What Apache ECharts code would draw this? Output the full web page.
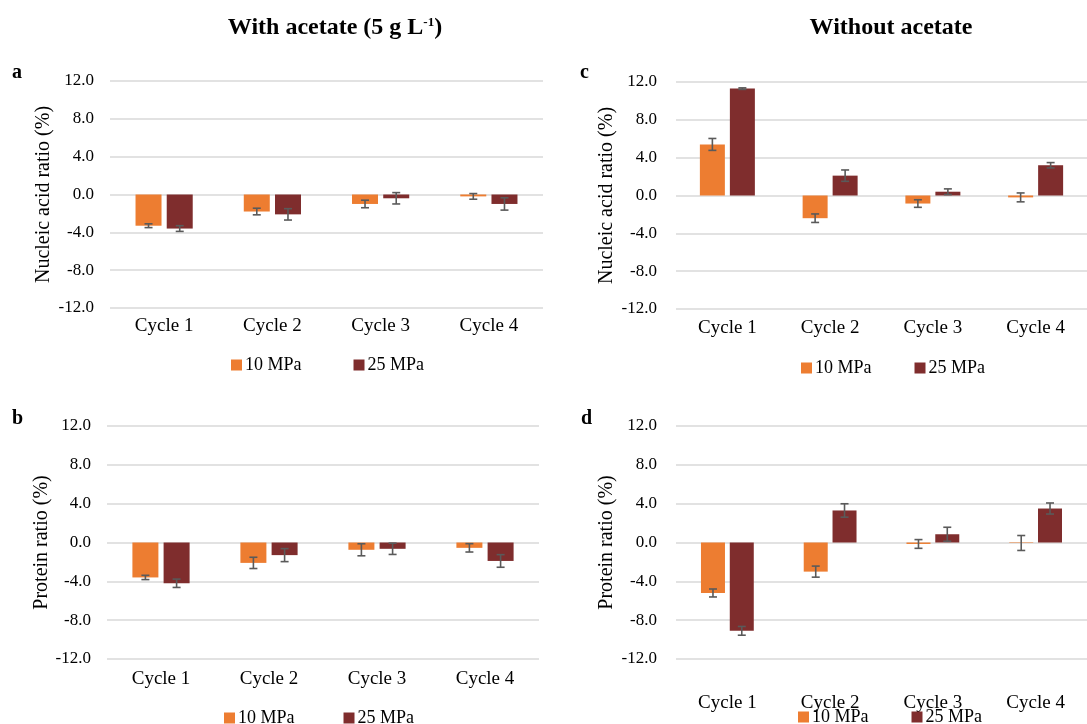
<!DOCTYPE html>
<html>
<head>
<meta charset="utf-8">
<script src="https://cdn.jsdelivr.net/npm/echarts@6/dist/echarts.min.js"></script>
<style>
  html, body { margin: 0; padding: 0; background: #fff; }
  #chart { width: 1087px; height: 724px; }
</style>
</head>
<body>
<div id="chart"></div>
<script>
// Categories and values (ratio in %, with standard deviation)
const cycles = ['Cycle 1', 'Cycle 2', 'Cycle 3', 'Cycle 4'];
const yTicks = [-12, -8, -4, 0, 4, 8, 12];

// a: nucleic acid ratio, with acetate
const nucleicAcetate10 = [-3.3, -1.8, -1.0, -0.2];
const nucleicAcetate10Err = [0.2, 0.35, 0.4, 0.3];
const nucleicAcetate25 = [-3.6, -2.1, -0.4, -1.0];
const nucleicAcetate25Err = [0.3, 0.6, 0.6, 0.65];

// b: protein ratio, with acetate
const proteinAcetate10 = [-3.6, -2.1, -0.75, -0.55];
const proteinAcetate10Err = [0.22, 0.58, 0.62, 0.43];
const proteinAcetate25 = [-4.2, -1.3, -0.65, -1.9];
const proteinAcetate25Err = [0.43, 0.67, 0.58, 0.65];

// c: nucleic acid ratio, without acetate
const nucleicNoAcetate10 = [5.4, -2.4, -0.85, -0.2];
const nucleicNoAcetate10Err = [0.63, 0.45, 0.4, 0.47];
const nucleicNoAcetate25 = [11.3, 2.1, 0.4, 3.2];
const nucleicNoAcetate25Err = [0.08, 0.6, 0.3, 0.28];

// d: protein ratio, without acetate
const proteinNoAcetate10 = [-5.2, -3.0, -0.15, -0.05];
const proteinNoAcetate10Err = [0.41, 0.57, 0.45, 0.77];
const proteinNoAcetate25 = [-9.1, 3.3, 0.85, 3.5];
const proteinNoAcetate25Err = [0.45, 0.69, 0.72, 0.57];

const FONT = '"Liberation Serif", "DejaVu Serif", serif';
const C10 = '#ED7D31';
const C25 = '#7F2D2D';
const ERR = '#5A5A5A';
const BAR_GAP = 0.2;

const panels = [
  { letter: 'a', grid: { left: 110, top: 81, width: 433, height: 227 }, yName: 'Nucleic acid ratio (%)',
    v10: nucleicAcetate10, e10: nucleicAcetate10Err, v25: nucleicAcetate25, e25: nucleicAcetate25Err,
    barWidth: 26, labelMargin: 9, tickMargin: 16, nameGap: 56,
    legendTop: 351, legendLeft: 226, legendGap: 52, letterPos: [12, 63] },
  { letter: 'b', grid: { left: 107, top: 426, width: 432, height: 233 }, yName: 'Protein ratio (%)',
    v10: proteinAcetate10, e10: proteinAcetate10Err, v25: proteinAcetate25, e25: proteinAcetate25Err,
    barWidth: 26, labelMargin: 11, tickMargin: 16, nameGap: 52,
    legendTop: 704, legendLeft: 219, legendGap: 49, letterPos: [12, 409] },
  { letter: 'c', grid: { left: 676, top: 82, width: 424, height: 227 }, yName: 'Nucleic acid ratio (%)',
    v10: nucleicNoAcetate10, e10: nucleicNoAcetate10Err, v25: nucleicNoAcetate25, e25: nucleicNoAcetate25Err,
    barWidth: 25, labelMargin: 10, tickMargin: 19, nameGap: 59,
    legendTop: 354, legendLeft: 796, legendGap: 43, letterPos: [580, 63] },
  { letter: 'd', grid: { left: 676, top: 426, width: 424, height: 233 }, yName: 'Protein ratio (%)',
    v10: proteinNoAcetate10, e10: proteinNoAcetate10Err, v25: proteinNoAcetate25, e25: proteinNoAcetate25Err,
    barWidth: 24, labelMargin: 35, tickMargin: 19, nameGap: 59,
    legendTop: 703, legendLeft: 793, legendGap: 43, letterPos: [581, 409] }
];

// Error bar drawn at a bar's centre, shifted by the bar's position in its group
function errorBarRenderer(barWidth, side) {
  return function (params, api) {
    const i = api.value(0);
    const v = api.value(1);
    const e = api.value(2);
    const offset = side * (barWidth * (1 + BAR_GAP)) / 2;
    const hi = api.coord([i, v + e]);
    const lo = api.coord([i, v - e]);
    const x = hi[0] + offset;
    const cap = 4;
    const style = { stroke: ERR, lineWidth: 1.6, fill: null };
    return {
      type: 'group',
      children: [
        { type: 'line', shape: { x1: x, y1: hi[1], x2: x, y2: lo[1] }, style: style },
        { type: 'line', shape: { x1: x - cap, y1: hi[1], x2: x + cap, y2: hi[1] }, style: style },
        { type: 'line', shape: { x1: x - cap, y1: lo[1], x2: x + cap, y2: lo[1] }, style: style }
      ]
    };
  };
}

const grids = [], xAxes = [], yAxes = [], series = [], legends = [], graphics = [];

panels.forEach(function (p, k) {
  grids.push(p.grid);
  xAxes.push({
    type: 'category', gridIndex: k, data: cycles,
    axisLine: { show: false }, axisTick: { show: false },
    axisLabel: { fontFamily: FONT, fontSize: 19, color: '#000', margin: p.labelMargin }
  });
  yAxes.push({
    type: 'value', gridIndex: k, min: yTicks[0], max: yTicks[yTicks.length - 1], interval: 4,
    name: p.yName, nameLocation: 'middle', nameGap: p.nameGap, nameRotate: 90,
    nameTextStyle: { fontFamily: FONT, fontSize: 20, color: '#000' },
    axisLine: { show: false }, axisTick: { show: false },
    axisLabel: { fontFamily: FONT, fontSize: 17, color: '#000', margin: p.tickMargin,
      formatter: function (v) { return v.toFixed(1); } },
    splitLine: { lineStyle: { color: '#D9D9D9', width: 1.5 } }
  });
  series.push({
    name: '10 MPa', type: 'bar', xAxisIndex: k, yAxisIndex: k, data: p.v10,
    barWidth: p.barWidth, barGap: (BAR_GAP * 100) + '%',
    itemStyle: { color: C10 }
  });
  series.push({
    name: '25 MPa', type: 'bar', xAxisIndex: k, yAxisIndex: k, data: p.v25,
    barWidth: p.barWidth, barGap: (BAR_GAP * 100) + '%',
    itemStyle: { color: C25 }
  });
  series.push({
    type: 'custom', xAxisIndex: k, yAxisIndex: k, z: 10, silent: true,
    renderItem: errorBarRenderer(p.barWidth, -1),
    data: p.v10.map(function (v, i) { return [i, v, p.e10[i]]; })
  });
  series.push({
    type: 'custom', xAxisIndex: k, yAxisIndex: k, z: 10, silent: true,
    renderItem: errorBarRenderer(p.barWidth, 1),
    data: p.v25.map(function (v, i) { return [i, v, p.e25[i]]; })
  });
  legends.push({
    data: ['10 MPa', '25 MPa'], left: p.legendLeft, top: p.legendTop,
    icon: 'rect', itemWidth: 11, itemHeight: 11, itemGap: p.legendGap,
    textStyle: { fontFamily: FONT, fontSize: 18, color: '#000', padding: [0, 0, 0, -2] }
  });
  graphics.push({
    type: 'text', left: p.letterPos[0], top: p.letterPos[1],
    style: { text: p.letter, font: 'bold 20px ' + FONT, fill: '#000' }
  });
});

const chart = echarts.init(document.getElementById('chart'), null, { renderer: 'canvas' });
chart.setOption({
  animation: false,
  backgroundColor: '#fff',
  title: [
    { text: 'With acetate (5 g L{sup|-1})', left: 330, top: 11, textAlign: 'center',
      textStyle: { fontFamily: FONT, fontWeight: 'bold', fontSize: 24, color: '#000',
        rich: { sup: { fontFamily: FONT, fontWeight: 'bold', fontSize: 13, color: '#000', padding: [0, 0, 11, 0] } } } },
    { text: 'Without acetate', left: 886, top: 11, textAlign: 'center',
      textStyle: { fontFamily: FONT, fontWeight: 'bold', fontSize: 24, color: '#000' } }
  ],
  grid: grids,
  xAxis: xAxes,
  yAxis: yAxes,
  legend: legends,
  series: series,
  graphic: graphics
});
</script>
</body>
</html>
